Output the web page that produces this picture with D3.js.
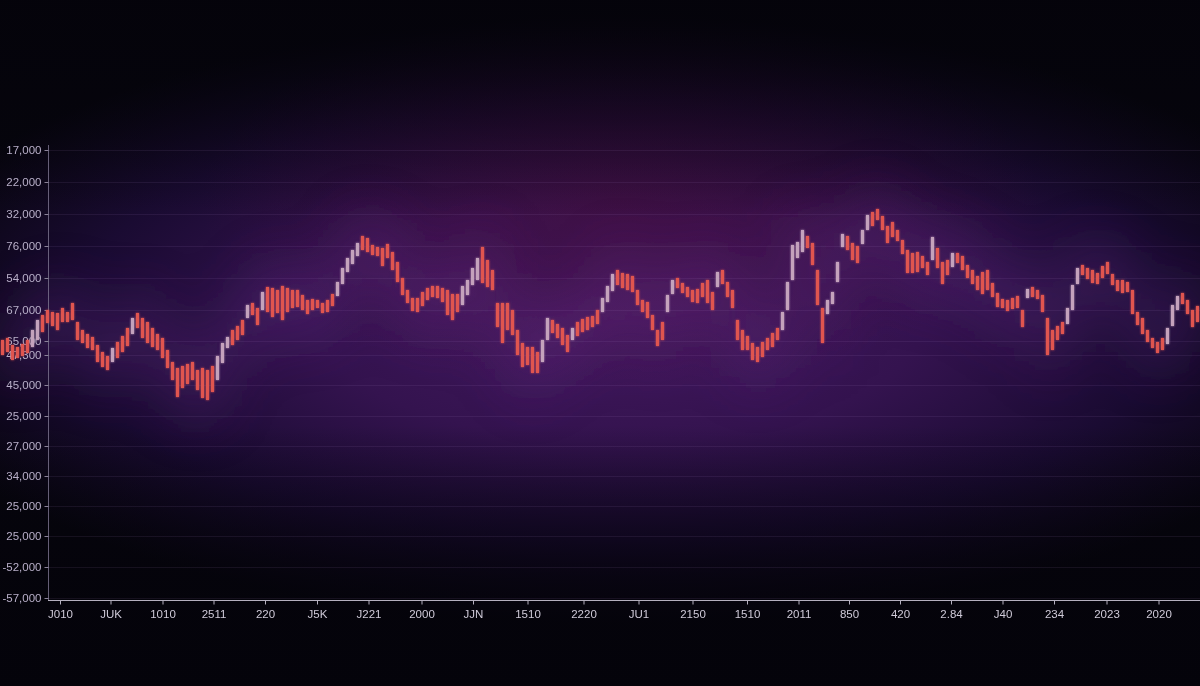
<!DOCTYPE html>
<html>
<head>
<meta charset="utf-8">
<script src="https://cdn.jsdelivr.net/npm/d3@7"></script>
<style>
html,body{margin:0;padding:0;background:#05040b;overflow:hidden;}
svg{display:block;}
</style>
</head>
<body>
<svg id="chart" width="1200" height="686"></svg>
<script>
// ---- data (value units: 0 = bottom axis, 448 = top tick) ----
const highs = [258,260,253,251,254,258,268,278,283,288,286,285,290,286,295,276,268,264,261,253,
246,242,250,256,262,270,280,285,280,276,270,264,260,248,236,230,232,234,236,228,
230,228,232,242,255,261,268,272,278,293,295,290,306,311,310,308,312,310,308,308,
303,298,299,298,295,298,304,316,330,340,348,355,362,360,353,351,350,354,346,336,
320,308,300,300,306,310,312,312,310,308,304,304,312,318,330,340,351,338,328,295,
295,295,288,268,255,251,251,246,258,280,278,274,270,263,270,276,279,281,282,288,
300,312,324,328,325,324,322,308,298,296,283,268,276,303,318,320,315,311,308,309,
315,318,306,326,328,316,308,278,268,262,255,251,256,260,265,270,286,316,353,356,
368,362,355,328,290,298,306,336,364,362,355,352,368,383,386,389,382,372,376,368,
358,348,345,346,342,336,361,350,336,338,345,345,342,333,328,322,326,328,315,305,
299,298,300,302,288,309,311,308,303,280,268,272,276,290,313,330,333,330,328,325,
332,336,324,318,318,316,308,286,280,268,260,256,260,270,293,302,305,298,288,292];
const lows = [243,246,238,240,242,245,251,258,266,275,272,268,276,276,278,258,255,250,248,236,
231,228,236,240,246,252,264,270,260,255,251,248,240,230,218,201,210,214,218,208,
200,198,206,218,235,250,253,258,263,280,283,273,288,286,281,285,278,286,290,291,
288,284,288,290,285,286,292,302,314,326,334,342,348,346,343,342,332,340,328,316,
303,295,287,286,292,298,301,300,296,283,278,286,293,303,313,318,315,311,308,271,
255,268,263,243,231,233,225,225,236,258,265,260,253,246,258,262,266,268,271,274,
286,296,307,313,310,308,306,293,286,280,268,252,258,286,304,310,305,301,296,295,
301,295,288,311,314,301,290,258,248,248,238,236,241,248,251,258,268,288,318,340,
346,350,333,293,255,284,294,316,351,348,338,335,354,368,372,378,368,355,361,357,
344,325,325,326,330,323,338,330,314,323,331,335,328,320,314,308,304,308,301,291,
290,287,289,290,271,300,301,299,286,243,248,258,264,274,288,314,323,319,315,314,
320,324,313,307,305,306,284,273,264,256,250,245,248,254,272,288,294,284,271,276];

const yTickValues = [448,416,384,352,320,288,257,243,213,182,152,122,92,62,31,0];
const yTickLabels = ["17,000","22,000","32,000","76,000","54,000","67,000","65,000","47,300",
  "45,000","25,000","27,000","34,000","25,000","25,000","-52,000","-57,000"];

const xTickIndex = [11.5,21.6,32,42.2,52.5,62.9,73.2,83.8,94.1,105,116.2,127.2,138,148.9,159.2,169.3,179.5,189.7,200,210.3,220.8,231.2];
const xTickLabels = ["J010","JUK","1010","2511","220","J5K","J221","2000","JJN","1510","2220",
  "JU1","2150","1510","2011","850","420","2.84","J40","234","2023","2020"];

// ---- layout ----
const W = 1200, H = 686;
const axisX = 48, axisY = 600, topY = 150, bottomY = 598;
const svg = d3.select("#chart");

const bars = highs.map((h, i) => ({i, h, l: lows[i]}));

const x = d3.scaleLinear().domain([0, highs.length - 1]).range([2.5, W - 2.5]);
const y = d3.scaleLinear().domain([0, 448]).range([bottomY, topY]);

// ---- defs ----
const defs = svg.append("defs");
const bg1 = defs.append("radialGradient").attr("id","bg1")
  .attr("gradientUnits","userSpaceOnUse")
  .attr("cx",620).attr("cy",320).attr("r",760)
  .attr("gradientTransform","translate(0,192) scale(1,0.4)");
bg1.append("stop").attr("offset","0%").attr("stop-color","#44195f");
bg1.append("stop").attr("offset","40%").attr("stop-color","#34134f");
bg1.append("stop").attr("offset","72%").attr("stop-color","#1a0b32");
bg1.append("stop").attr("offset","100%").attr("stop-color","#06050d");

const bg2 = defs.append("radialGradient").attr("id","bg2")
  .attr("gradientUnits","userSpaceOnUse")
  .attr("cx",620).attr("cy",200).attr("r",420)
  .attr("gradientTransform","translate(0,110) scale(1,0.45)");
bg2.append("stop").attr("offset","0%").attr("stop-color","#4a0d3c").attr("stop-opacity",0.5);
bg2.append("stop").attr("offset","100%").attr("stop-color","#4a0d3c").attr("stop-opacity",0);

const fade = defs.append("linearGradient").attr("id","fade").attr("x1",0).attr("y1",0).attr("x2",0).attr("y2",1);
fade.append("stop").attr("offset","0%").attr("stop-color","#04030a").attr("stop-opacity",0.9);
fade.append("stop").attr("offset","14%").attr("stop-color","#04030a").attr("stop-opacity",0.5);
fade.append("stop").attr("offset","32%").attr("stop-color","#04030a").attr("stop-opacity",0);
fade.append("stop").attr("offset","62%").attr("stop-color","#04030a").attr("stop-opacity",0);
fade.append("stop").attr("offset","85%").attr("stop-color","#04030a").attr("stop-opacity",0.7);
fade.append("stop").attr("offset","100%").attr("stop-color","#04030a").attr("stop-opacity",0.95);

const haze = defs.append("filter").attr("id","haze").attr("x","-20%").attr("y","-60%").attr("width","140%").attr("height","220%");
haze.append("feGaussianBlur").attr("stdDeviation",26);

const glow = defs.append("filter").attr("id","glow").attr("x","-10%").attr("y","-30%").attr("width","120%").attr("height","160%");
glow.append("feGaussianBlur").attr("in","SourceGraphic").attr("stdDeviation",1.3).attr("result","b");
const gm = glow.append("feMerge");
gm.append("feMergeNode").attr("in","b");
gm.append("feMergeNode").attr("in","SourceGraphic");

// background
svg.append("rect").attr("width",W).attr("height",H).attr("fill","url(#bg1)");
svg.append("rect").attr("width",W).attr("height",H).attr("fill","url(#bg2)");
svg.append("rect").attr("width",W).attr("height",H).attr("fill","url(#fade)");

// purple haze around the series
svg.append("g").attr("filter","url(#haze)").selectAll("rect")
  .data(bars).join("rect")
  .attr("x", d => x(d.i) - 4)
  .attr("width", 8)
  .attr("y", d => y(d.h) - 25)
  .attr("height", d => y(d.l) - y(d.h) + 50)
  .attr("fill", "#6e3390")
  .attr("opacity", 0.2);

// gridlines
svg.append("g").selectAll("line").data(yTickValues).join("line")
  .attr("x1", axisX).attr("x2", W)
  .attr("y1", d => y(d) + 0.5).attr("y2", d => y(d) + 0.5)
  .attr("stroke", "#b48ad0").attr("stroke-opacity", 0.1).attr("stroke-width", 1);

// y axis
const yAxis = d3.axisLeft(y).tickValues(yTickValues)
  .tickFormat((d, k) => yTickLabels[k]).tickSize(4).tickPadding(3);
const gy = svg.append("g").attr("transform", `translate(${axisX + 0.5},0)`).call(yAxis);
gy.select(".domain").attr("d", `M0,145V${axisY}`).attr("stroke","#7d7590").attr("stroke-opacity",0.8);
gy.selectAll(".tick line").attr("stroke","#8a8298");
gy.selectAll(".tick text").attr("fill","#b9b0c9")
  .attr("font-family","'Liberation Sans', Arial, sans-serif").attr("font-size",11.5);

// x axis
const xAxis = d3.axisBottom(x).tickValues(xTickIndex)
  .tickFormat((d, k) => xTickLabels[k]).tickSize(4).tickPadding(5);
const gx = svg.append("g").attr("transform", `translate(0,${axisY + 0.5})`).call(xAxis);
gx.select(".domain").attr("d", `M${axisX},0H${W}`).attr("stroke","#b5b0bf").attr("stroke-width",1.2);
gx.selectAll(".tick line").attr("stroke","#b5b0bf");
gx.selectAll(".tick text").attr("fill","#cfcad8")
  .attr("font-family","'Liberation Sans', Arial, sans-serif").attr("font-size",11.5);

// bars
const mid = d => (d.h + d.l) / 2;
svg.append("g").attr("filter","url(#glow)").selectAll("rect")
  .data(bars).join("rect")
  .attr("x", d => x(d.i) - 1.5)
  .attr("width", 3)
  .attr("y", d => y(d.h))
  .attr("height", d => y(d.l) - y(d.h))
  .attr("fill", d => {
    if (d.i === 0) return "#e0544f";
    const prev = bars[d.i - 1];
    return mid(d) - mid(prev) > 7 ? "#c4a2bc" : "#e0544f";
  });
</script>
</body>
</html>
